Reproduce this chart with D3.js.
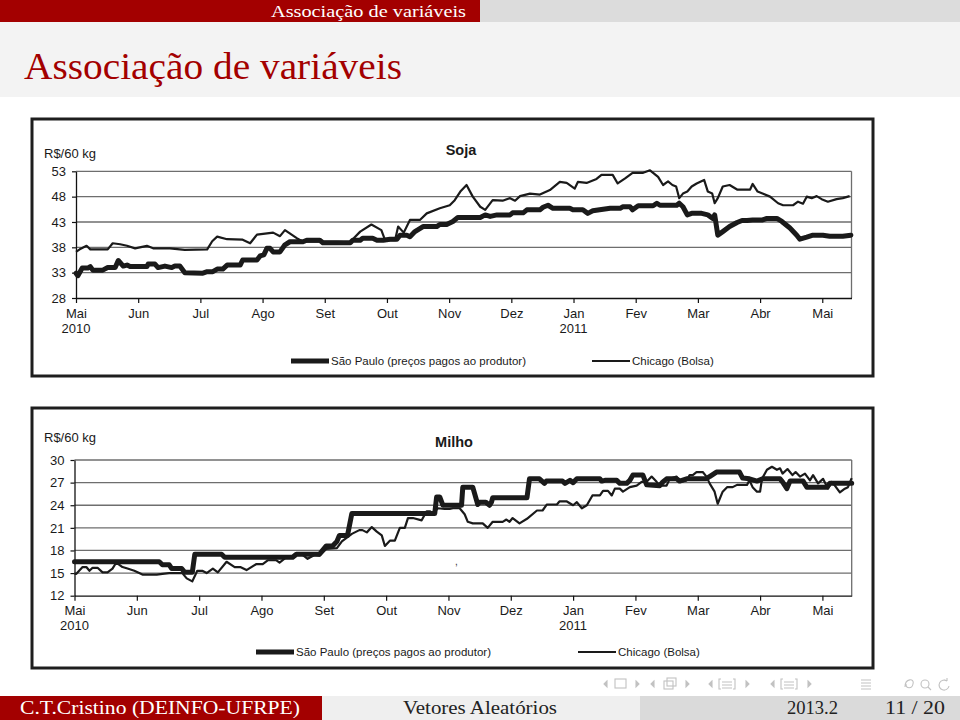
<!DOCTYPE html>
<html><head><meta charset="utf-8">
<script src="https://cdn.jsdelivr.net/npm/d3@7"></script>
<style>
html,body{margin:0;padding:0;background:#fff;}
svg{display:block;}
</style></head><body>
<svg id="c" width="960" height="720"></svg>
<script>
// ---------------- DATA ----------------
const months = ["Mai","Jun","Jul","Ago","Set","Out","Nov","Dez","Jan","Fev","Mar","Abr","Mai"];
const yearLabels = [[0,"2010"],[8,"2011"]];
const sojaTicks = [28,33,38,43,48,53];
const milhoTicks = [12,15,18,21,24,27,30];
const seriesNames = ["São Paulo (preços pagos ao produtor)","Chicago (Bolsa)"];

// [months since May 2010, R$/60 kg]
const sojaSP = [[0,32.9],[0.03,32.4],[0.10,33.9],[0.19,33.9],[0.23,34.2],[0.27,33.5],[0.43,33.5],[0.51,34.0],[0.63,34.0],[0.68,35.4],[0.76,34.3],[0.82,34.5],[0.87,34.2],[1.14,34.2],[1.16,34.7],[1.27,34.7],[1.32,34.0],[1.43,34.3],[1.54,34.0],[1.59,34.3],[1.67,34.3],[1.75,33.0],[2.04,32.9],[2.11,33.2],[2.20,33.2],[2.27,33.7],[2.36,33.7],[2.43,34.5],[2.64,34.5],[2.68,35.5],[2.91,35.5],[2.96,36.3],[3.02,36.5],[3.07,37.8],[3.12,37.8],[3.17,37.1],[3.28,37.1],[3.36,38.5],[3.44,39.1],[3.65,39.1],[3.71,39.4],[3.92,39.4],[3.97,38.9],[4.41,38.9],[4.45,39.4],[4.57,39.4],[4.61,39.8],[4.77,39.8],[4.84,39.4],[4.94,39.4],[5.05,39.6],[5.16,39.6],[5.21,40.4],[5.32,40.4],[5.37,40.1],[5.45,41.1],[5.58,42.1],[5.80,42.1],[5.85,42.5],[5.96,42.5],[6.06,43.1],[6.14,43.9],[6.50,43.9],[6.58,44.4],[6.66,44.1],[6.77,44.4],[6.98,44.4],[7.02,44.8],[7.19,44.8],[7.25,45.4],[7.46,45.4],[7.51,45.9],[7.59,46.3],[7.67,45.7],[7.94,45.7],[7.99,45.4],[8.15,45.4],[8.23,44.7],[8.31,45.2],[8.42,45.4],[8.59,45.7],[8.75,45.7],[8.79,46.0],[8.91,46.0],[8.95,45.4],[9.04,46.2],[9.28,46.2],[9.34,46.7],[9.39,46.3],[9.66,46.3],[9.70,46.7],[9.76,46.0],[9.83,44.4],[9.90,44.7],[10.06,44.7],[10.16,44.4],[10.24,43.7],[10.27,44.4],[10.32,40.4],[10.40,41.1],[10.51,42.1],[10.63,42.9],[10.71,43.3],[10.79,43.3],[10.88,43.4],[11.04,43.4],[11.11,43.7],[11.27,43.7],[11.35,43.1],[11.48,41.8],[11.59,40.4],[11.64,39.6],[11.75,40.0],[11.85,40.4],[12.01,40.4],[12.12,40.2],[12.33,40.2],[12.46,40.4]];

const sojaChicago = [[0,37.1],[0.06,37.6],[0.17,38.3],[0.23,37.6],[0.51,37.6],[0.59,38.8],[0.71,38.6],[0.82,38.3],[0.95,37.8],[1.14,38.3],[1.24,37.8],[1.51,37.8],[1.75,37.5],[2.11,37.6],[2.19,39.2],[2.27,40.1],[2.43,39.6],[2.68,39.5],[2.80,38.8],[2.91,40.5],[3.17,40.9],[3.28,40.2],[3.36,41.4],[3.55,39.8],[3.65,39.1],[4.20,39.1],[4.41,39.0],[4.45,39.6],[4.57,41.1],[4.75,42.5],[4.91,41.4],[4.97,39.4],[5.13,39.4],[5.18,42.1],[5.27,40.9],[5.37,43.4],[5.53,43.4],[5.64,44.7],[5.85,45.7],[6.01,46.3],[6.09,47.3],[6.18,49.0],[6.28,50.3],[6.38,48.0],[6.50,46.0],[6.58,45.4],[6.70,47.3],[6.86,47.2],[6.98,47.7],[7.06,47.2],[7.14,48.1],[7.30,48.6],[7.46,48.4],[7.62,49.3],[7.78,50.9],[7.89,50.7],[8.02,49.6],[8.07,50.9],[8.21,50.7],[8.37,51.5],[8.45,52.3],[8.63,52.3],[8.71,50.6],[8.83,51.6],[8.95,52.7],[9.12,52.7],[9.23,53.2],[9.36,51.9],[9.44,50.3],[9.52,51.0],[9.59,50.3],[9.65,50.0],[9.70,47.7],[9.76,48.6],[9.83,49.0],[9.90,50.0],[9.98,50.6],[10.10,51.3],[10.16,49.0],[10.23,48.6],[10.27,46.7],[10.32,47.7],[10.40,50.0],[10.51,50.3],[10.63,49.4],[10.84,49.4],[10.88,50.5],[10.96,49.0],[11.04,48.6],[11.16,48.0],[11.29,46.7],[11.37,46.3],[11.53,46.3],[11.61,47.0],[11.69,46.6],[11.75,48.0],[11.83,47.7],[11.91,48.1],[11.99,47.5],[12.09,47.0],[12.23,47.5],[12.33,47.7],[12.44,48.1]];

const milhoSP = [[0,16.5],[1.36,16.5],[1.41,16.1],[1.52,16.1],[1.56,15.6],[1.72,15.6],[1.77,15.1],[1.89,15.1],[1.93,17.5],[2.36,17.5],[2.41,17.1],[3.50,17.1],[3.56,17.5],[3.93,17.5],[3.98,18.0],[4.04,18.6],[4.14,18.6],[4.21,19.2],[4.25,20.0],[4.38,20.0],[4.45,22.9],[5.78,22.9],[5.81,25.1],[5.86,25.1],[5.91,24.0],[6.21,24.0],[6.23,26.4],[6.39,26.4],[6.47,24.1],[6.50,24.4],[6.60,24.4],[6.66,24.0],[6.69,24.4],[6.71,25.0],[7.26,25.0],[7.30,27.5],[7.46,27.5],[7.54,26.9],[7.57,27.2],[7.83,27.2],[7.87,26.9],[7.95,27.3],[8.00,27.0],[8.06,27.5],[8.43,27.5],[8.46,27.2],[8.51,27.3],[8.70,27.3],[8.75,26.9],[8.86,26.9],[8.91,27.3],[8.96,28.0],[9.12,28.0],[9.18,26.7],[9.39,26.6],[9.44,27.1],[9.50,27.5],[9.66,27.5],[9.71,27.2],[9.82,27.5],[10.14,27.5],[10.19,27.8],[10.30,28.4],[10.67,28.4],[10.72,27.6],[10.83,27.5],[10.95,27.2],[11.04,27.5],[11.32,27.5],[11.36,27.1],[11.43,26.2],[11.48,27.2],[11.69,27.2],[11.75,26.4],[12.07,26.4],[12.12,26.9],[12.47,26.9]];

const milhoChicago = [[0,14.9],[0.03,14.9],[0.13,15.8],[0.19,15.8],[0.24,15.3],[0.29,15.7],[0.37,15.7],[0.45,15.1],[0.53,15.1],[0.61,15.6],[0.67,16.4],[0.77,15.8],[0.85,15.6],[0.96,15.3],[1.09,14.8],[1.32,14.8],[1.41,14.9],[1.52,15.0],[1.73,15.0],[1.80,14.3],[1.89,13.9],[1.97,15.3],[2.05,15.3],[2.12,15.0],[2.22,15.6],[2.30,15.1],[2.44,16.5],[2.57,15.8],[2.66,15.8],[2.76,15.4],[2.92,16.2],[3.02,16.2],[3.10,16.7],[3.24,16.7],[3.29,16.4],[3.40,17.1],[3.50,17.1],[3.56,17.4],[3.66,17.4],[3.74,16.9],[3.85,17.4],[3.93,17.3],[4.04,18.2],[4.21,18.3],[4.29,19.2],[4.45,20.2],[4.57,20.7],[4.62,20.7],[4.69,20.4],[4.77,21.1],[4.85,20.5],[4.93,20.0],[4.98,18.6],[5.06,19.3],[5.14,19.3],[5.22,21.0],[5.30,21.0],[5.35,22.3],[5.43,22.3],[5.57,22.0],[5.65,23.2],[5.70,23.2],[5.75,22.9],[5.83,23.6],[5.94,23.5],[6.02,23.5],[6.07,23.6],[6.18,23.6],[6.23,23.1],[6.26,22.8],[6.31,21.8],[6.39,21.6],[6.55,21.6],[6.63,21.0],[6.71,21.8],[6.87,21.8],[6.93,22.1],[6.98,21.8],[7.03,22.3],[7.14,21.6],[7.26,22.2],[7.42,23.3],[7.51,23.3],[7.58,24.1],[7.74,24.1],[7.78,24.5],[7.90,24.5],[8.00,24.0],[8.06,24.4],[8.14,23.6],[8.22,24.0],[8.31,25.3],[8.43,25.3],[8.48,25.9],[8.56,25.9],[8.62,25.3],[8.67,26.2],[8.75,26.2],[8.80,25.8],[8.91,26.4],[9.02,26.6],[9.10,27.1],[9.18,27.1],[9.26,27.8],[9.34,27.1],[9.39,26.6],[9.50,26.6],[9.55,27.5],[9.66,27.8],[9.71,27.1],[9.82,27.3],[9.87,28.0],[9.92,28.0],[9.98,28.4],[10.08,28.4],[10.14,27.8],[10.19,26.9],[10.27,25.8],[10.32,24.2],[10.40,25.8],[10.47,26.4],[10.56,26.4],[10.63,26.7],[10.79,26.7],[10.83,27.3],[10.88,26.4],[10.95,25.8],[11.00,25.8],[11.03,27.5],[11.11,28.7],[11.19,29.1],[11.27,28.7],[11.32,28.9],[11.36,28.2],[11.44,28.8],[11.52,28.0],[11.57,28.4],[11.64,27.8],[11.72,28.2],[11.80,27.3],[11.85,28.0],[11.93,26.9],[12.01,27.5],[12.09,26.2],[12.15,27.1],[12.20,26.6],[12.28,25.7],[12.36,26.2],[12.41,26.4],[12.47,27.6]];

// ---------------- DRAW ----------------
const svg = d3.select("#c");
const RED = "#a30000";
const SERIF = "'Liberation Serif', 'DejaVu Serif', serif";
const SANS = "'Liberation Sans', Arial, sans-serif";

// Beamer header
svg.append("rect").attr("x",0).attr("y",0).attr("width",480).attr("height",22).attr("fill",RED);
svg.append("rect").attr("x",480).attr("y",0).attr("width",480).attr("height",22).attr("fill","#dcdcdc");
svg.append("rect").attr("x",0).attr("y",22).attr("width",960).attr("height",75).attr("fill","#f3f3f3");
svg.append("text").attr("x",466).attr("y",17).attr("text-anchor","end")
  .attr("font-family",SERIF).attr("font-size",16).attr("fill","#fff")
  .attr("textLength",195).attr("lengthAdjust","spacingAndGlyphs").text("Associação de variáveis");
svg.append("text").attr("x",24).attr("y",79)
  .attr("font-family",SERIF).attr("font-size",37).attr("fill",RED)
  .attr("textLength",378).attr("lengthAdjust","spacingAndGlyphs").text("Associação de variáveis");

function drawChart(o){
  const g = svg.append("g");
  g.append("rect").attr("x",o.box[0]).attr("y",o.box[1]).attr("width",o.box[2]).attr("height",o.box[3])
    .attr("fill","#fff").attr("stroke","#1e1e1e").attr("stroke-width",3);
  const x = d3.scaleLinear().domain([0,12.47]).range([o.left,o.right]);
  const y = d3.scaleLinear().domain([o.ticks[0],o.ticks[o.ticks.length-1]]).range([o.bottom,o.top]);

  // gridlines
  g.selectAll("line.grid").data(o.ticks.slice(1)).join("line").attr("class","grid")
    .attr("x1",o.left).attr("x2",o.right).attr("y1",d=>y(d)).attr("y2",d=>y(d))
    .attr("stroke","#6e6e6e").attr("stroke-width",1.3);
  g.append("line").attr("x1",o.right).attr("x2",o.right).attr("y1",o.top).attr("y2",o.bottom)
    .attr("stroke","#6e6e6e").attr("stroke-width",1.3);

  // axes
  const ya = g.append("g").attr("transform",`translate(${o.left},0)`)
    .call(d3.axisLeft(y).tickValues(o.ticks).tickSize(4).tickSizeOuter(0).tickPadding(6));
  const xa = g.append("g").attr("transform",`translate(0,${o.bottom})`)
    .call(d3.axisBottom(x).tickValues(d3.range(13)).tickFormat(i=>months[i]).tickSize(5).tickSizeOuter(0).tickPadding(o.xpad));
  [ya,xa].forEach(a=>{
    a.select(".domain").attr("stroke","#111").attr("stroke-width",1.3);
    a.selectAll(".tick line").attr("stroke","#111").attr("stroke-width",1.2);
    a.selectAll("text").attr("font-family",SANS).attr("font-size",13).attr("fill","#1a1a1a");
  });
  g.selectAll("text.year").data(yearLabels).join("text").attr("class","year")
    .attr("x",d=>x(d[0])).attr("y",o.bottom+o.yearOff).attr("text-anchor","middle")
    .attr("font-family",SANS).attr("font-size",13).attr("fill","#1a1a1a").text(d=>d[1]);

  // labels
  g.append("text").attr("x",44).attr("y",o.unitY).attr("font-family",SANS).attr("font-size",13)
    .attr("fill","#1a1a1a").text("R$/60 kg");
  g.append("text").attr("x",o.titleX).attr("y",o.titleY).attr("text-anchor","middle")
    .attr("font-family",SANS).attr("font-size",14.5).attr("font-weight","bold").attr("fill","#1a1a1a").text(o.title);

  // lines
  const line = d3.line().x(d=>x(d[0])).y(d=>y(d[1]));
  g.append("path").datum(o.sp).attr("d",line).attr("fill","none").attr("stroke","#1a1a1a")
    .attr("stroke-width",5).attr("stroke-linejoin","round").attr("stroke-linecap","round");
  g.append("path").datum(o.chi).attr("d",line).attr("fill","none").attr("stroke","#1a1a1a")
    .attr("stroke-width",2.2).attr("stroke-linejoin","round");

  // legend
  const L = o.legend;
  g.append("line").attr("x1",L.x1).attr("x2",L.x1+38).attr("y1",L.y).attr("y2",L.y)
    .attr("stroke","#1a1a1a").attr("stroke-width",5);
  g.append("text").attr("x",L.x1+40).attr("y",L.y+4).attr("font-family",SANS).attr("font-size",11.5)
    .attr("fill","#1a1a1a").text(seriesNames[0]);
  g.append("line").attr("x1",L.x2).attr("x2",L.x2+38).attr("y1",L.y).attr("y2",L.y)
    .attr("stroke","#1a1a1a").attr("stroke-width",2.2);
  g.append("text").attr("x",L.x2+40).attr("y",L.y+4).attr("font-family",SANS).attr("font-size",11.5)
    .attr("fill","#1a1a1a").text(seriesNames[1]);
  return g;
}

drawChart({box:[32,119,841,257], left:76, right:851.5, top:171.3, bottom:298,
  ticks:sojaTicks, xpad:5.5, yearOff:35, unitY:158, title:"Soja", titleX:461, titleY:155,
  sp:sojaSP, chi:sojaChicago, legend:{x1:291, x2:592, y:361}});
const g2 = drawChart({box:[32,408,841,260], left:74.5, right:851.7, top:460, bottom:595.7,
  ticks:milhoTicks, xpad:5, yearOff:34.5, unitY:442, title:"Milho", titleX:454, titleY:447,
  sp:milhoSP, chi:milhoChicago, legend:{x1:256, x2:578, y:652}});
g2.append("text").attr("x",455).attr("y",565).attr("font-family",SANS).attr("font-size",10).attr("fill","#333").text(",");

// navigation symbols
const nav = svg.append("g").attr("fill","none").attr("stroke","#c2c2c2").attr("stroke-width",1.1);
function tri(x,y,left){ nav.append("path").attr("d", left ? `M${x+3},${y-3}L${x},${y}L${x+3},${y+3}Z` : `M${x},${y-3}L${x+3},${y}L${x},${y+3}Z`).attr("fill","#c2c2c2"); }
const ny = 684;
tri(604,ny,true); nav.append("rect").attr("x",615).attr("y",ny-5).attr("width",11).attr("height",9); tri(636,ny,false);
tri(651,ny,true); nav.append("rect").attr("x",664).attr("y",ny-3).attr("width",9).attr("height",8);
nav.append("rect").attr("x",667).attr("y",ny-6).attr("width",9).attr("height",8); tri(686,ny,false);
tri(709,ny,true); nav.append("path").attr("d",`M721,${ny-5}L719,${ny-5}L719,${ny+5}L721,${ny+5}M733,${ny-5}L735,${ny-5}L735,${ny+5}L733,${ny+5}M722,${ny-2}H732M722,${ny+1}H732M722,${ny+4}H732`); tri(746,ny,false);
tri(771,ny,true); nav.append("path").attr("d",`M783,${ny-5}L781,${ny-5}L781,${ny+5}L783,${ny+5}M795,${ny-5}L797,${ny-5}L797,${ny+5}L795,${ny+5}M784,${ny-2}H794M784,${ny+1}H794M784,${ny+4}H794`); tri(808,ny,false);
nav.append("path").attr("d",`M861,${ny-4}H871M861,${ny-1}H871M861,${ny+2}H871M861,${ny+5}H871`);
nav.append("path").attr("d",`M905,${ny+3}C905,${ny-6} 915,${ny-6} 913,${ny}C912,${ny+5} 906,${ny+5} 906,${ny}`);
nav.append("circle").attr("cx",925).attr("cy",ny).attr("r",4);
nav.append("path").attr("d",`M928,${ny+3}L931,${ny+6}`);
nav.append("path").attr("d",`M947,${ny-3}A5,5 0 1 0 949,${ny+2}M947,${ny-3}L944,${ny-4}M947,${ny-3}L947,${ny-6}`);

// Footer
svg.append("rect").attr("x",0).attr("y",696).attr("width",322).attr("height",24).attr("fill",RED);
svg.append("rect").attr("x",322).attr("y",696).attr("width",318).attr("height",24).attr("fill","#efefef");
svg.append("rect").attr("x",640).attr("y",696).attr("width",320).attr("height",24).attr("fill","#dadada");
const ft = (x,t,len,fill)=>svg.append("text").attr("x",x).attr("y",714).attr("font-family",SERIF)
  .attr("font-size",19).attr("fill",fill).attr("textLength",len).attr("lengthAdjust","spacingAndGlyphs").text(t);
ft(20,"C.T.Cristino  (DEINFO-UFRPE)",280,"#fff");
ft(403,"Vetores Aleatórios",154,"#222");
ft(787,"2013.2",51,"#222");
ft(885,"11 / 20",60,"#222");
</script>
</body></html>
